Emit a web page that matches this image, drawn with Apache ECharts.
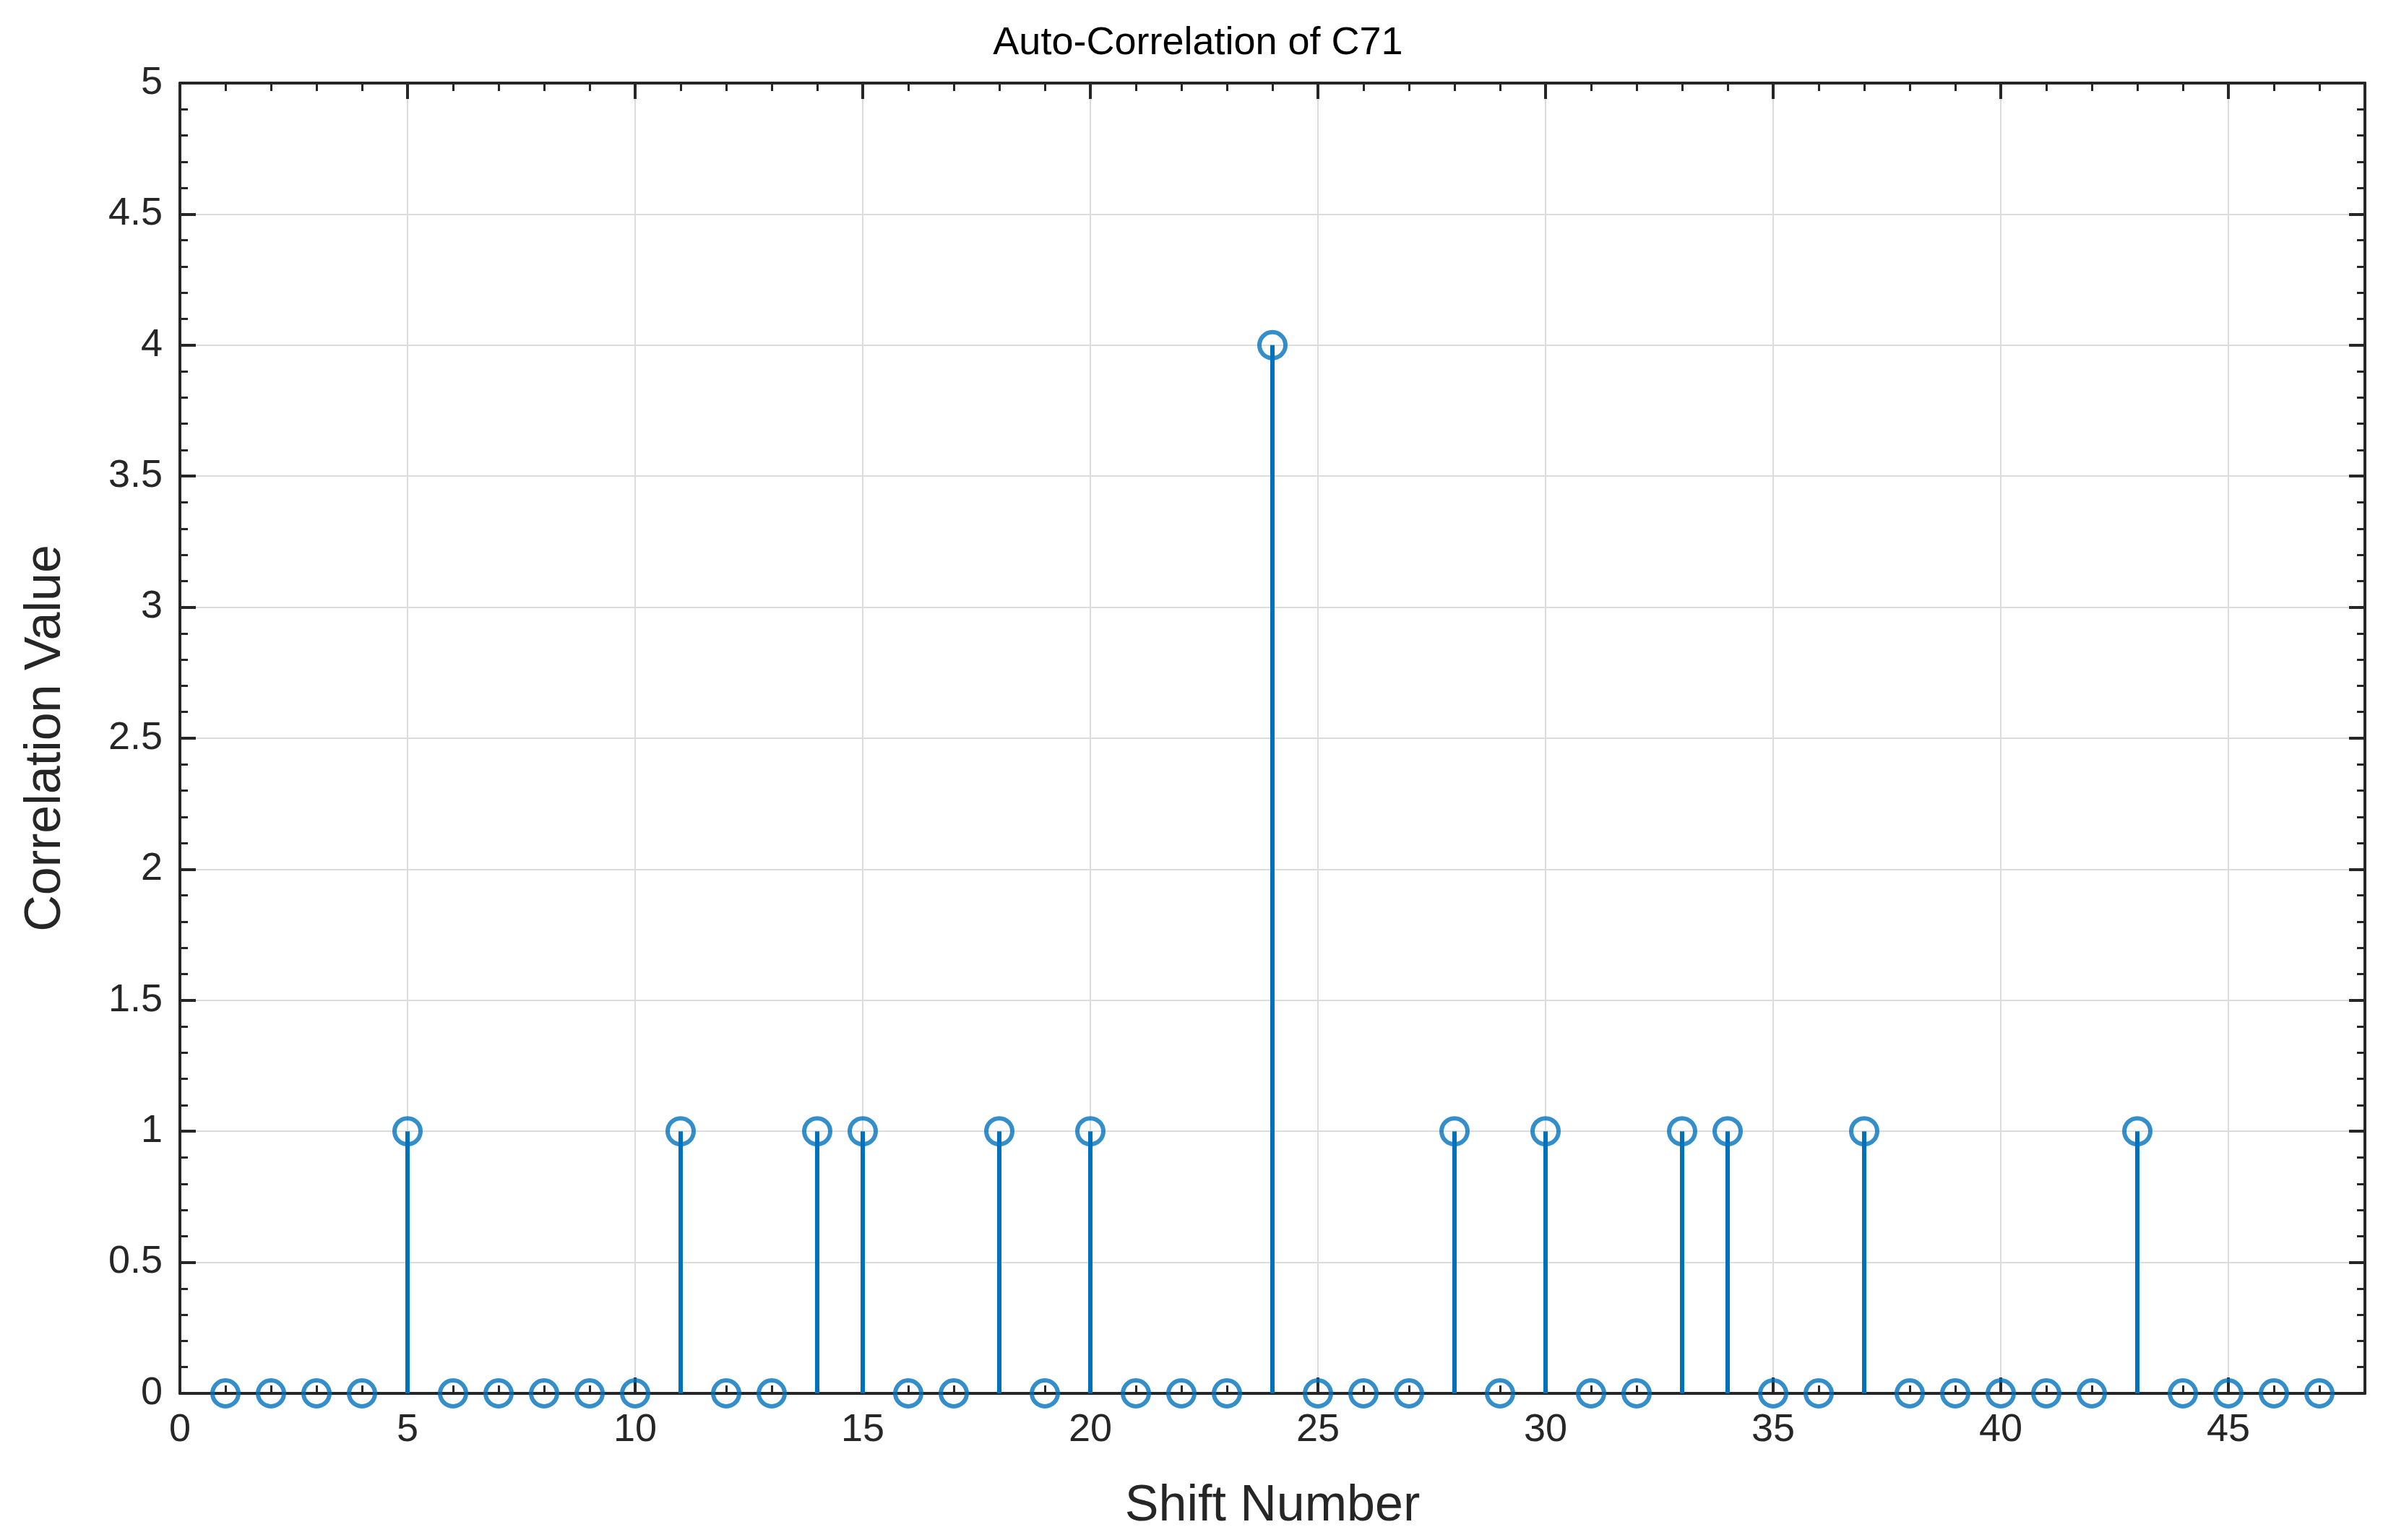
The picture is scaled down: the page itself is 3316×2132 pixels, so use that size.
<!DOCTYPE html>
<html><head><meta charset="utf-8">
<script src="https://cdn.jsdelivr.net/npm/echarts@6/dist/echarts.min.js"></script>
<style>html,body{margin:0;background:#fff}#c{width:3316px;height:2132px}</style>
</head><body><div id="c"></div>
<script>
// shift numbers and correlation values
const shifts = [];
for (let i = 1; i <= 47; i++) shifts.push(i);
const values = [0,0,0,0,1,0,0,0,0,0,1,0,0,1,1,0,0,1,0,1,0,0,0,4,0,0,0,1,0,1,0,0,1,1,0,0,1,0,0,0,0,0,1,0,0,0,0];

const pts = shifts.map((s, i) => [s, values[i]]);
const blue = '#0072BD';
const ink = '#262626';
const font = 'Arial, "Liberation Sans", sans-serif';

const axisCommon = {
  axisLine: {onZero: false, lineStyle: {color: ink, width: 4}},
  axisTick: {inside: true, length: 22, lineStyle: {color: ink, width: 4}},
  minorTick: {show: true, splitNumber: 5, length: 11, lineStyle: {color: ink, width: 3}},
};

const chart = echarts.init(document.getElementById('c'));
chart.setOption({
  animation: false,
  title: {text: 'Auto-Correlation of C71', left: 'center', top: 28,
    textStyle: {fontFamily: font, fontWeight: 'normal', fontSize: 54, color: '#000'}},
  grid: {left: 249, right: 43, top: 115, bottom: 203},
  xAxis: [
    Object.assign({type: 'value', min: 0, max: 48, interval: 5,
      name: 'Shift Number', nameLocation: 'middle', nameGap: 122,
      nameTextStyle: {fontFamily: font, fontSize: 70, color: ink},
      axisLabel: {fontFamily: font, fontSize: 54, color: ink, margin: 24,
        formatter: v => v > 45 ? '' : v},
      splitLine: {show: true, lineStyle: {color: '#dcdcdc', width: 2}}}, axisCommon),
    Object.assign({type: 'value', position: 'top', min: 0, max: 48, interval: 5,
      axisLabel: {show: false}, splitLine: {show: false}}, axisCommon)
  ],
  yAxis: [
    Object.assign({type: 'value', min: 0, max: 5, interval: 0.5,
      name: 'Correlation Value', nameLocation: 'middle', nameGap: 150,
      nameTextStyle: {fontFamily: font, fontSize: 70, color: ink},
      axisLabel: {fontFamily: font, fontSize: 54, color: ink, margin: 24},
      splitLine: {show: true, lineStyle: {color: '#dcdcdc', width: 2}}}, axisCommon),
    Object.assign({type: 'value', position: 'right', min: 0, max: 5, interval: 0.5,
      axisLabel: {show: false}, splitLine: {show: false}}, axisCommon)
  ],
  series: [
    {
      type: 'custom',
      data: pts,
      renderItem: (params, api) => {
        const top = api.coord([api.value(0), api.value(1)]);
        const base = api.coord([api.value(0), 0]);
        return {type: 'line', shape: {x1: base[0], y1: base[1], x2: top[0], y2: top[1]},
          style: {stroke: blue, lineWidth: 6}};
      },
      z: 3
    },
    {
      type: 'scatter',
      data: pts,
      symbol: 'circle',
      symbolSize: 36,
      itemStyle: {color: 'rgba(0,0,0,0)', borderColor: blue, borderWidth: 6},
      z: 4
    }
  ]
});
</script></body></html>
